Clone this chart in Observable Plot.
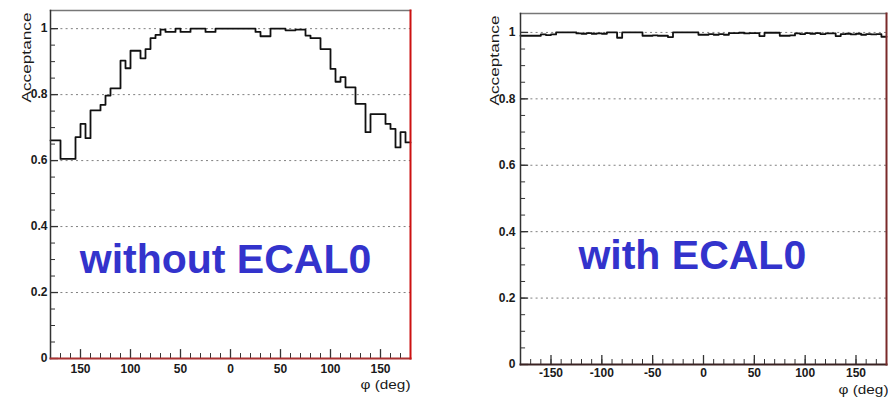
<!DOCTYPE html>
<html><head><meta charset="utf-8">
<script src="https://cdn.jsdelivr.net/npm/d3@7"></script>
<script src="https://cdn.jsdelivr.net/npm/@observablehq/plot@0.6"></script>
<style>
body{margin:0;background:#fff;}
#wrap{position:relative;width:888px;height:398px;overflow:hidden;background:#fff;}
#left,#right{position:absolute;top:0;}
#left{left:0}#right{left:444px}
</style></head><body>
<div id="wrap"><div id="left"></div><div id="right"></div></div>
<script>
// ---- data ----
const phiStart = -180;
const binWidth = 5; // degrees per bin
const withoutEcal0 = [
  0.661,0.661,0.605,0.605,0.605,0.671,0.711,0.668,0.752,0.752,
  0.769,0.797,0.819,0.819,0.903,0.880,0.933,0.933,0.910,0.938,
  0.971,0.981,0.997,0.990,0.990,1.000,0.990,0.990,1.000,1.000,
  1.000,0.990,0.990,1.000,1.000,1.000,1.000,1.000,1.000,1.000,
  1.000,0.990,0.977,0.977,1.000,1.000,1.000,0.995,0.995,0.997,
  0.997,0.979,0.971,0.971,0.938,0.938,0.878,0.839,0.853,0.822,
  0.822,0.772,0.772,0.686,0.741,0.741,0.741,0.711,0.696,0.640,
  0.686,0.655
];
const withEcal0 = [
  0.990,0.990,0.990,0.990,0.994,0.992,0.994,1.000,1.000,1.000,
  1.000,0.997,0.996,0.998,0.996,0.997,0.996,1.000,1.000,0.984,
  1.000,1.000,1.000,1.000,0.990,0.990,0.991,0.990,0.990,0.986,
  1.000,1.000,1.000,1.000,1.000,0.993,0.993,0.995,0.993,0.995,
  0.993,0.998,0.998,0.999,0.997,0.998,0.998,0.989,0.999,0.999,
  0.999,0.990,0.990,0.991,0.997,0.995,0.998,0.996,0.998,0.995,
  0.997,0.997,0.989,0.995,0.996,0.994,0.996,0.993,0.995,0.994,
  0.995,0.987
];
const yTicks = [0, 0.2, 0.4, 0.6, 0.8, 1];
const yTickLabels = ["0", "0.2", "0.4", "0.6", "0.8", "1"];
const xTicks = [-150, -100, -50, 0, 50, 100, 150];
const xTickLabelsLeft = ["150", "100", "50", "0", "50", "100", "150"];
const xTickLabelsRight = ["-150", "-100", "-50", "0", "50", "100", "150"];
const panelLabels = ["without ECAL0", "with ECAL0"];
const yTitle = "Acceptance";
const xTitle = "φ (deg)";

function steps(values) {
  const pts = values.map((v, i) => ({phi: phiStart + i * binWidth, v}));
  pts.push({phi: phiStart + values.length * binWidth, v: values[values.length - 1]});
  return pts;
}

function panel(o) {
  const yMinor = d3.range(0, 1.0001, 0.05);
  const xMinor = d3.range(-170, 171, 10);
  const tl = o.tickLen;
  const chart = Plot.plot({
    width: 444, height: 398,
    marginLeft: o.ml, marginRight: o.mr, marginTop: o.mt, marginBottom: o.mb,
    x: {domain: [-180, 180]},
    y: {domain: [0, o.ymax]},
    style: {fontFamily: "'Liberation Sans', Arial, sans-serif", fontSize: "12px", color: "#1a1a1a", background: "transparent"},
    marks: [
      Plot.ruleY(yTicks.filter(d => d > 0), {stroke: "#555", strokeOpacity: 0.75, strokeDasharray: "2,3.2"}),
      Plot.ruleY(yMinor, {x1: -180, x2: -180 + tl.yMinor, stroke: "#333"}),
      Plot.ruleY(yTicks, {x1: -180, x2: -180 + tl.yMajor, stroke: "#333", strokeWidth: 1.3}),
      Plot.ruleX(xMinor, {y1: 0, y2: tl.xMinor, stroke: "#333"}),
      Plot.ruleX(xTicks, {y1: 0, y2: tl.xMajor, stroke: "#333", strokeWidth: 1.3}),
      Plot.line(steps(o.values), {x: "phi", y: "v", curve: "step-after", stroke: "#111", strokeWidth: 1.8}),
      Plot.axisY({ticks: yTicks, tickSize: 0, tickPadding: o.yPad, tickFormat: d => yTickLabels[yTicks.indexOf(d)], fontWeight: "bold", label: null}),
      Plot.axisX({ticks: xTicks, tickSize: 0, tickPadding: o.xPad, tickFormat: d => o.xLabels[xTicks.indexOf(d)], fontWeight: "bold", label: null}),
      Plot.frame({anchor: "top", stroke: "#777", strokeWidth: 1.5}),
      Plot.frame({anchor: "left", stroke: "#333", strokeWidth: 1.5}),
      Plot.frame({anchor: "bottom", stroke: o.bottomColor, strokeWidth: 2}),
      Plot.frame({anchor: "right", stroke: o.rightColor, strokeWidth: 2}),
      Plot.text([o.label], {x: o.labelPos[0], y: o.labelPos[1], text: d => d, lineAnchor: "bottom", fontSize: 41, fontWeight: "bold", fill: "#3333cc"}),
      Plot.text([yTitle], {frameAnchor: "top-left", rotate: -90, textAnchor: "end", dx: o.yTitleDx, dy: 2, fontSize: 13, className: "ytitle"}),
      Plot.text([xTitle], {frameAnchor: "bottom-right", textAnchor: "end", dx: o.xTitleDx, dy: o.xTitleDy, fontSize: 12, className: "xtitle"})
    ]
  });
  d3.select(chart).selectAll(".ytitle text").attr("textLength", 90).attr("lengthAdjust", "spacingAndGlyphs");
  d3.select(chart).selectAll(".xtitle text").attr("textLength", 50).attr("lengthAdjust", "spacingAndGlyphs");
  return chart;
}

document.getElementById("left").append(panel({
  values: withoutEcal0, label: panelLabels[0], labelPos: [-5, 0.258],
  ml: 50, mr: 34, mt: 10, mb: 40, ymax: 1.055,
  tickLen: {yMajor: 8, yMinor: 5, xMajor: 0.027, xMinor: 0.015},
  yPad: 3, xPad: 6, xLabels: xTickLabelsLeft,
  bottomColor: "#a33", rightColor: "#cc1111",
  yTitleDx: -29, xTitleDx: 0, xTitleDy: 30
}));
document.getElementById("right").append(panel({
  values: withEcal0, label: panelLabels[1], labelPos: [-11, 0.289],
  ml: 76, mr: 2, mt: 13, mb: 34, ymax: 1.057,
  tickLen: {yMajor: 8, yMinor: 5, xMajor: 0.027, xMinor: 0.015},
  yPad: 5, xPad: 4, xLabels: xTickLabelsRight,
  bottomColor: "#3a2222", rightColor: "#7a2a2a",
  yTitleDx: -31, xTitleDx: 2, xTitleDy: 29
}));
</script>
</body></html>
